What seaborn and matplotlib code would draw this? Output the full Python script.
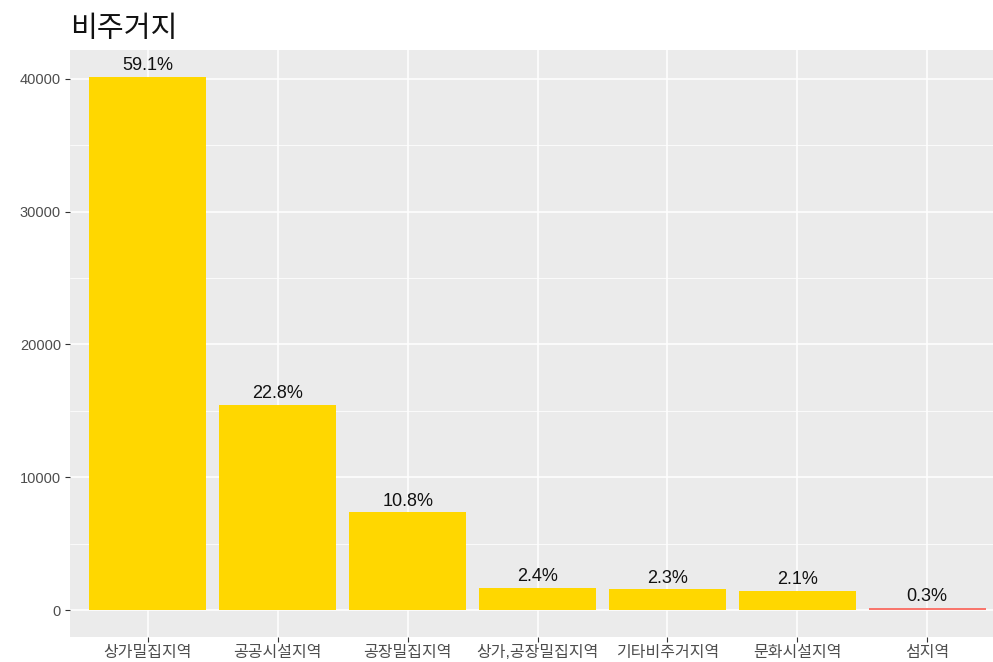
import matplotlib
matplotlib.use("Agg")
import matplotlib.pyplot as plt
import seaborn as sns
import pandas as pd
from matplotlib.ticker import MultipleLocator

# Non-residential area types and their counts
categories = ["상가밀집지역", "공공시설지역", "공장밀집지역", "상가,공장밀집지역",
              "기타비주거지역", "문화시설지역", "섬지역"]
counts = [40150, 15480, 7360, 1660, 1580, 1440, 210]
bar_colors = ["#FFD700", "#FFD700", "#FFD700", "#FFD700", "#FFD700", "#FFD700", "#F8766D"]
title = "비주거지"

total = sum(counts)
shares = [f"{c / total * 100:.1f}%" for c in counts]
df = pd.DataFrame({"area": categories, "count": counts, "label": shares})

sns.set_theme(style="darkgrid", rc={
    "axes.facecolor": "#EBEBEB",
    "grid.color": "white",
    "axes.edgecolor": "#EBEBEB",
})
plt.rcParams["font.family"] = ["Liberation Sans", "Noto Sans CJK KR", "DejaVu Sans"]

W, H = 993, 662
fig = plt.figure(figsize=(W / 100, H / 100), dpi=100)
# panel spans from x=70 to past the right edge, y=50 to 637
left, right, top, bottom = 70, 1005, 50, 637
ax = fig.add_axes([left / W, 1 - bottom / H, (right - left) / W, (bottom - top) / H])

sns.barplot(data=df, x="area", y="count", hue="area", palette=bar_colors,
            width=0.9, legend=False, ax=ax, saturation=1, linewidth=0)

ymax = max(counts)
ax.set_ylim(-0.05 * ymax, 1.05 * ymax)
ax.set_xlim(-0.6, len(categories) - 0.4)

ax.yaxis.set_major_locator(MultipleLocator(10000))
ax.yaxis.set_minor_locator(MultipleLocator(5000))
ax.grid(which="major", color="white", linewidth=1.1)
ax.grid(which="minor", axis="y", color="white", linewidth=0.55)
ax.set_axisbelow(True)
for s in ax.spines.values():
    s.set_visible(False)

ax.tick_params(axis="both", which="major", bottom=True, left=True, length=3.5,
               width=0.8, color="#333333", labelcolor="#4D4D4D", pad=3,
               direction="out")
ax.tick_params(axis="y", which="major", labelsize=10.5)
ax.tick_params(axis="x", which="major", labelsize=11.5, pad=2)
ax.tick_params(axis="y", which="minor", length=0)
ax.set_xlabel("")
ax.set_ylabel("")
ax.set_yticks([0, 10000, 20000, 30000, 40000])
ax.set_yticklabels(["0", "10000", "20000", "30000", "40000"])

for i, (c, lab) in enumerate(zip(counts, shares)):
    ax.annotate(lab, (i, c), xytext=(0, 2), textcoords="offset points",
                ha="center", va="bottom", fontsize=13, color="#111111")

fig.text(left / W, 1 - 29 / H, title, ha="left", va="center", fontsize=21,
         color="#111111", family=["Noto Sans CJK KR", "DejaVu Sans"])

fig.savefig("out.png", dpi=100, facecolor="white")
